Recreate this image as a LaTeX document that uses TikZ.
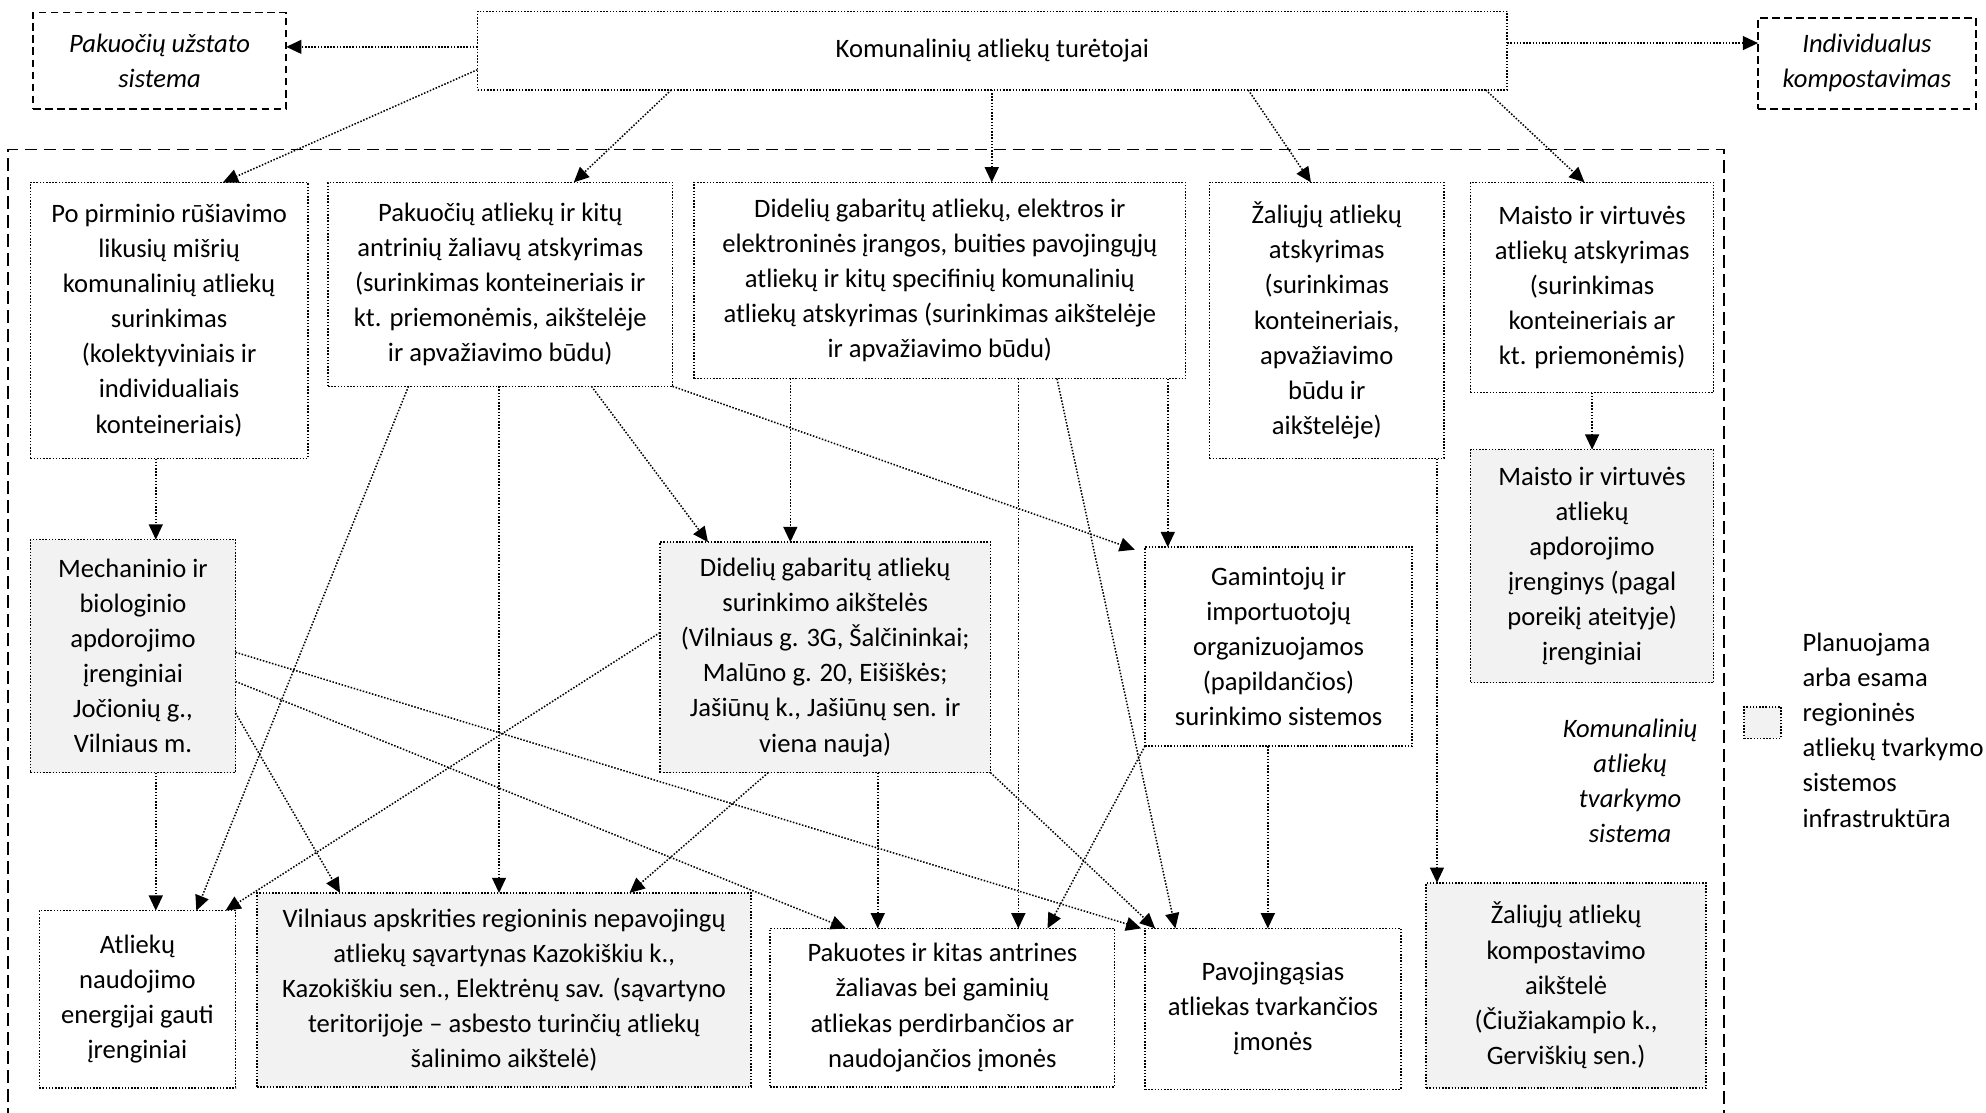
\documentclass[tikz,border=0pt]{standalone}
\usepackage{fontspec}
\setmainfont{Carlito}
\usepackage{tikz}
\usetikzlibrary{arrows.meta, positioning}
\definecolor{infragray}{HTML}{F2F2F2}
\tikzset{font=\fontsize{21}{27.7}\selectfont}
\tikzset{dotline/.style={line width=1.2pt, dash pattern=on 1.2pt off 1.3pt}}
\tikzset{wastebox/.style={rectangle, draw=black, dotline, align=center, inner sep=2pt, outer sep=0pt}}
\tikzset{infrabox/.style={wastebox, fill=infragray}}
\tikzset{extbox/.style={rectangle, draw=black, line width=1.3pt, dash pattern=on 6pt off 3.5pt,
  align=center, outer sep=0pt, font=\fontsize{21}{27.7}\selectfont\itshape}}
\tikzset{flow/.style={draw=black, dotline, -{Triangle[length=12pt, width=11pt]}}}

\begin{document}
\begin{tikzpicture}[x=1pt, y=-1pt]
  \useasboundingbox (0,0) rectangle (1568,878);
  % Frame
  \draw[line width=1.5pt, dash pattern=on 10pt off 5pt]
    (6.5,885) -- (6.5,118) -- (1361,118) -- (1361,885);
  %Nodes
  \node[wastebox, minimum width=813pt, minimum height=62pt] (tur) at (783.5,40) {Komunalinių atliekų turėtojai};
  \node[extbox, minimum width=200pt, minimum height=76pt] (uzst) at (126,48) {Pakuočių užstato\\sistema};
  \node[extbox, minimum width=172pt, minimum height=72pt] (komp) at (1474,50) {Individualus\\kompostavimas};

  \node[wastebox, minimum width=219pt, minimum height=218pt] (psurink) at (133.5,253)
    {Po pirminio rūšiavimo\\likusių mišrių\\komunalinių atliekų\\surinkimas\\(kolektyviniais ir\\individualiais\\konteineriais)};
  \node[wastebox, minimum width=272pt, minimum height=161pt] (pakatsk) at (395,224.5)
    {Pakuočių atliekų ir kitų\\antrinių žaliavų atskyrimas\\(surinkimas konteineriais ir\\kt. priemonėmis, aikštelėje\\ir apvažiavimo būdu)};
  \node[wastebox, minimum width=388pt, minimum height=155pt] (didatsk) at (742,221.5)
    {Didelių gabaritų atliekų, elektros ir\\elektroninės įrangos, buities pavojingųjų\\atliekų ir kitų specifinių komunalinių\\atliekų atskyrimas (surinkimas aikštelėje\\ir apvažiavimo būdu)};
  \node[wastebox, minimum width=185pt, minimum height=218pt] (zalatsk) at (1047.5,253)
    {Žaliųjų atliekų\\atskyrimas\\(surinkimas\\konteineriais,\\apvažiavimo\\būdu ir\\aikštelėje)};
  \node[wastebox, minimum width=192pt, minimum height=166pt] (maistatsk) at (1257,227)
    {Maisto ir virtuvės\\atliekų atskyrimas\\(surinkimas\\konteineriais ar\\kt. priemonėmis)};

  \node[infrabox, minimum width=162pt, minimum height=184pt] (mbt) at (105,518)
    {Mechaninio ir\\biologinio\\apdorojimo\\įrenginiai\\Jočionių g.,\\Vilniaus m.};
  \node[infrabox, minimum width=261pt, minimum height=182pt] (didaiks) at (651.5,519)
    {Didelių gabaritų atliekų\\surinkimo aikštelės\\(Vilniaus g. 3G, Šalčininkai;\\Malūno g. 20, Eišiškės;\\Jašiūnų k., Jašiūnų sen. ir\\viena nauja)};
  \node[wastebox, minimum width=211pt, minimum height=157pt] (gamint) at (1009.5,510.5)
    {Gamintojų ir\\importuotojų\\organizuojamos\\(papildančios)\\surinkimo sistemos};
  \node[infrabox, minimum width=192pt, minimum height=184pt] (maistapd) at (1257,447)
    {Maisto ir virtuvės\\atliekų\\apdorojimo\\įrenginys (pagal\\poreikį ateityje)\\įrenginiai};

  \node[wastebox, minimum width=155pt, minimum height=140pt] (energ) at (108.5,789)
    {Atliekų\\naudojimo\\energijai gauti\\įrenginiai};
  \node[infrabox, minimum width=390pt, minimum height=153pt] (savart) at (398,781.5)
    {Vilniaus apskrities regioninis nepavojingų\\atliekų sąvartynas Kazokiškiu k.,\\Kazokiškiu sen., Elektrėnų sav. (sąvartyno\\teritorijoje – asbesto turinčių atliekų\\šalinimo aikštelė)};
  \node[wastebox, minimum width=272pt, minimum height=125pt] (perdirb) at (744,795.5)
    {Pakuotes ir kitas antrines\\žaliavas bei gaminių\\atliekas perdirbančios ar\\naudojančios įmonės};
  \node[wastebox, minimum width=202pt, minimum height=127pt] (pavoj) at (1005,796.5)
    {Pavojingąsias\\atliekas tvarkančios\\įmonės};
  \node[infrabox, minimum width=221pt, minimum height=162pt] (zalkomp) at (1236.5,778)
    {Žaliųjų atliekų\\kompostavimo\\aikštelė\\(Čiužiakampio k.,\\Gerviškių sen.)};

  \node[align=center, font=\fontsize{21}{27.7}\selectfont\itshape] (sistlab) at (1287,616.5)
    {Komunalinių\\atliekų\\tvarkymo\\sistema};
  % Legend
  \node[infrabox, minimum width=29pt, minimum height=25pt] (legbox) at (1391.5,570.5) {};
  \node[align=left, inner sep=0pt, right=17pt of legbox, yshift=-6pt] (legtext)
    {Planuojama\\arba esama\\regioninės\\atliekų tvarkymo\\sistemos\\infrastruktūra};

  % Edges
  \begin{scope}[every edge/.style={flow}]
    \draw ([yshift=3pt]tur.west) edge ([yshift=11pt]uzst.east);
    \draw ([yshift=6pt]tur.east) edge ([yshift=16pt]komp.west);
    \draw ([yshift=-15pt]tur.west) edge ([xshift=42.5pt]psurink.north);
    \draw ([xshift=-253.5pt]tur.south) edge ([xshift=58pt]pakatsk.north);
    \draw ([xshift=-0.5pt]tur.south) edge ([xshift=41pt]didatsk.north);
    \draw ([xshift=202pt]tur.south) edge ([xshift=-12.5pt]zalatsk.north);
    \draw ([xshift=389.5pt]tur.south) edge ([xshift=-6pt]maistatsk.north);
    \draw ([xshift=-10.5pt]psurink.south) edge ([xshift=18pt]mbt.north);
    \draw ([xshift=18pt]mbt.south) edge ([xshift=14.5pt]energ.north);
    \draw (maistatsk.south) edge (maistapd.north);
    \draw ([xshift=87pt]zalatsk.south) edge ([xshift=-102pt]zalkomp.north);
    \draw ([xshift=-72.5pt]pakatsk.south) edge ([xshift=46.5pt]energ.north);
    \draw ([xshift=-1pt]pakatsk.south) edge ([xshift=-4pt]savart.north);
    \draw ([xshift=72pt]pakatsk.south) edge ([xshift=-92.5pt]didaiks.north);
    \draw (pakatsk.south east) edge ([xshift=-8pt, yshift=-2pt]gamint.north west);
    \draw ([xshift=-118pt]didatsk.south) edge ([xshift=-27.5pt]didaiks.north);
    \draw ([xshift=62pt]didatsk.south) edge ([xshift=60pt]perdirb.north);
    \draw ([xshift=92.5pt]didatsk.south) edge ([xshift=-77pt]pavoj.north);
    \draw ([xshift=180pt]didatsk.south) edge ([xshift=-87.5pt]gamint.north);
    \draw ([yshift=-45pt]mbt.east) edge ([xshift=-129.5pt]savart.north);
    \draw ([yshift=3pt]mbt.east) edge ([xshift=-104pt]pavoj.north);
    \draw ([yshift=-20pt]mbt.east) edge ([xshift=-76pt]perdirb.north);
    \draw ([yshift=19.5pt]didaiks.west) edge ([xshift=69.5pt]energ.north);
    \draw ([xshift=-45pt]didaiks.south) edge ([xshift=99pt]savart.north);
    \draw ([xshift=41.5pt]didaiks.south) edge ([xshift=-51pt]perdirb.north);
    \draw (didaiks.south east) edge ([xshift=-93pt]pavoj.north);
    \draw (gamint.south west) edge ([xshift=83pt]perdirb.north);
    \draw ([xshift=-8.5pt]gamint.south) edge ([xshift=-4pt]pavoj.north);
  \end{scope}
\end{tikzpicture}
\end{document}
